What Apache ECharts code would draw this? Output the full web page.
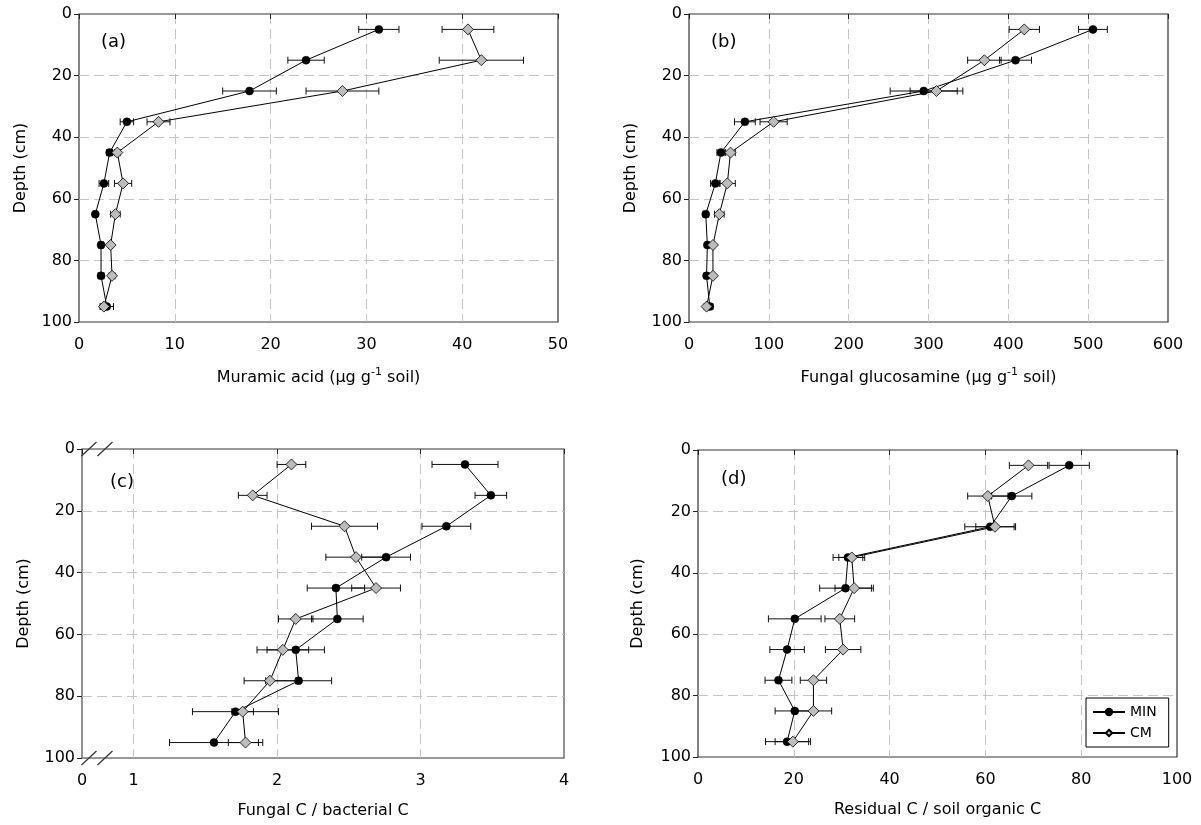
<!DOCTYPE html>
<html>
<head>
<meta charset="utf-8">
<script src="https://cdn.jsdelivr.net/npm/echarts@6/dist/echarts.min.js"></script>
<style>
html, body { margin: 0; padding: 0; background: #fff; }
#chart { width: 1201px; height: 825px; }
</style>
</head>
<body>
<div id="chart"></div>
<script>
// depth of each sample layer (cm)
var depths = [5, 15, 25, 35, 45, 55, 65, 75, 85, 95];

// (a) muramic acid
var minA = [31.3, 23.7, 17.8, 5.0, 3.2, 2.6, 1.7, 2.3, 2.3, 2.9];
var minAErr = [2.1, 1.9, 2.8, 0.7, 0.3, 0.5, 0.2, 0.25, 0.3, 0.7];
var cmA = [40.6, 42.0, 27.5, 8.3, 4.0, 4.6, 3.8, 3.3, 3.45, 2.6];
var cmAErr = [2.7, 4.4, 3.8, 1.2, 0.3, 0.9, 0.5, 0.2, 0.3, 0.3];

// (b) fungal glucosamine
var minB = [506, 409, 294, 70, 40, 33, 21, 23, 22, 26];
var minBErr = [18, 20, 42, 13, 5, 6, 3, 2, 3, 4];
var cmB = [420, 370, 310, 106, 52, 48, 38, 30, 30, 22];
var cmBErr = [19, 21, 33, 17, 6, 10, 6, 2, 2, 3];

// (c) fungal C / bacterial C
var minC = [3.31, 3.49, 3.18, 2.76, 2.41, 2.42, 2.13, 2.15, 1.71, 1.56];
var minCErr = [0.23, 0.11, 0.17, 0.17, 0.20, 0.18, 0.20, 0.23, 0.30, 0.31];
var cmC = [2.10, 1.83, 2.47, 2.55, 2.69, 2.13, 2.04, 1.95, 1.76, 1.78];
var cmCErr = [0.10, 0.10, 0.23, 0.21, 0.17, 0.12, 0.18, 0.18, 0.075, 0.12];

// (d) residual C / SOC
var minD = [77.5, 65.5, 61, 31.3, 30.8, 20.2, 18.6, 16.8, 20.2, 18.6];
var minDErr = [4.2, 4.2, 5.3, 3.1, 5.4, 5.5, 3.6, 2.8, 4.1, 4.5];
var cmD = [69, 60.5, 62, 32.1, 32.6, 29.6, 30.3, 24.1, 24.1, 19.8];
var cmDErr = [4, 4.2, 4, 2.7, 4, 3.1, 3.7, 2.75, 3.8, 3.7];

var panelLabels = ['(a)', '(b)', '(c)', '(d)'];
var xNames = [
    'Muramic acid (\u00b5g g{sup|-1} soil)',
    'Fungal glucosamine (\u00b5g g{sup|-1} soil)',
    'Fungal C / bacterial C',
    'Residual C / soil organic C'
];
var depthName = 'Depth (cm)';

var FONT = 'DejaVu Sans';
var grids = [
    { left: 79, top: 14, width: 479, height: 308 },
    { left: 689, top: 14, width: 479, height: 308 },
    { left: 82, top: 449, width: 482, height: 309 },
    { left: 698, top: 450, width: 479, height: 307 }
];

var myChart = echarts.init(document.getElementById('chart'));

function pts(vals) {
    return vals.map(function (v, i) { return [v, depths[i]]; });
}
function errs(vals, e) {
    return vals.map(function (v, i) { return [v, depths[i], e[i]]; });
}

function renderErr(params, api) {
    var x = api.value(0), y = api.value(1), e = api.value(2);
    var lo = api.coord([x - e, y]);
    var hi = api.coord([x + e, y]);
    var h = 3.5;
    var st = { stroke: '#111', lineWidth: 1 };
    return {
        type: 'group',
        children: [
            { type: 'line', shape: { x1: lo[0], y1: lo[1], x2: hi[0], y2: hi[1] }, style: st },
            { type: 'line', shape: { x1: lo[0], y1: lo[1] - h, x2: lo[0], y2: lo[1] + h }, style: st },
            { type: 'line', shape: { x1: hi[0], y1: hi[1] - h, x2: hi[0], y2: hi[1] + h }, style: st }
        ]
    };
}

var gridLine = { show: true, showMinLine: false, showMaxLine: false, lineStyle: { type: [10, 5], color: '#c4c4c4', width: 1 } };

var xAxes = [
    { min: 0, max: 50, interval: 10 },
    { min: 0, max: 600, interval: 100 },
    { min: 0.64, max: 4, splitNumber: 3 },
    { min: 0, max: 100, interval: 20 }
].map(function (ax, i) {
    return Object.assign({
        type: 'value',
        gridIndex: i,
        name: xNames[i],
        nameLocation: 'middle',
        nameGap: i < 2 ? 45 : 42,
        nameTextStyle: {
            fontFamily: FONT, fontSize: 16, color: '#000', lineHeight: 22,
            rich: { sup: { fontFamily: FONT, fontSize: 11, lineHeight: 11, verticalAlign: 'top', color: '#000' } }
        },
        axisLine: { show: false },
        axisTick: { show: true, inside: false, length: 5, lineStyle: { color: '#222' } },
        axisLabel: {
            margin: 15, fontFamily: FONT, fontSize: 16, color: '#000',
            formatter: i === 2 ? function (v) { return v < 1 ? '0' : String(v); } : null
        },
        splitLine: gridLine
    }, ax);
});

var yAxes = grids.map(function (g, i) {
    return {
        type: 'value',
        gridIndex: i,
        inverse: true,
        min: 0, max: 100, interval: 20,
        name: depthName,
        nameLocation: 'middle',
        nameGap: i === 3 ? 52 : 50,
        nameRotate: 90,
        nameTextStyle: { fontFamily: FONT, fontSize: 16, color: '#000' },
        axisLine: { show: false },
        axisTick: { show: true, inside: false, length: 5, lineStyle: { color: '#222' } },
        axisLabel: { margin: 7, fontFamily: FONT, fontSize: 16, color: '#000' },
        splitLine: gridLine
    };
});

var panelData = [
    [minA, minAErr, cmA, cmAErr],
    [minB, minBErr, cmB, cmBErr],
    [minC, minCErr, cmC, cmCErr],
    [minD, minDErr, cmD, cmDErr]
];

var series = [];
panelData.forEach(function (p, i) {
    series.push({
        name: 'errMIN' + i, type: 'custom', xAxisIndex: i, yAxisIndex: i,
        data: errs(p[0], p[1]), encode: { x: 0, y: 1 }, renderItem: renderErr, z: 1, silent: true
    });
    series.push({
        name: 'errCM' + i, type: 'custom', xAxisIndex: i, yAxisIndex: i,
        data: errs(p[2], p[3]), encode: { x: 0, y: 1 }, renderItem: renderErr, z: 1, silent: true
    });
    series.push({
        name: 'MIN', type: 'line', xAxisIndex: i, yAxisIndex: i, data: pts(p[0]),
        symbol: 'circle', symbolSize: 8, z: 3,
        lineStyle: { color: '#000', width: 1 },
        itemStyle: { color: '#000', borderColor: '#000', borderWidth: 0.5 }
    });
    series.push({
        name: 'CM', type: 'line', xAxisIndex: i, yAxisIndex: i, data: pts(p[2]),
        symbol: 'diamond', symbolSize: [11, 11], z: 4,
        lineStyle: { color: '#000', width: 1 },
        itemStyle: { color: '#bcbcbc', borderColor: '#000', borderWidth: 0.8 }
    });
});

var titles = [
    { left: 101, top: 33 }, { left: 711, top: 33 }, { left: 110, top: 473 }, { left: 721, top: 470 }
].map(function (t, i) {
    return { text: panelLabels[i], left: t.left, top: t.top, padding: 0,
        textStyle: { fontFamily: FONT, fontSize: 18, fontWeight: 'normal', color: '#000' } };
});

// axis-break marks on panel (c)
var gc = grids[2];
var breaks = [];
[gc.top, gc.top + gc.height].forEach(function (yy) {
    [gc.left + 7, gc.left + 23].forEach(function (xx) {
        breaks.push({
            type: 'line', z: 100,
            shape: { x1: xx - 7.5, y1: yy + 7, x2: xx + 7.5, y2: yy - 7 },
            style: { stroke: '#333', lineWidth: 1.2 }
        });
    });
});

var option = {
    animation: false,
    backgroundColor: '#fff',
    title: titles,
    grid: grids.map(function (g, i) {
        return Object.assign({ show: true, borderColor: i === 2 ? '#777' : '#333', borderWidth: i === 2 ? 1.6 : 1.2, backgroundColor: 'transparent' }, g);
    }),
    xAxis: xAxes,
    yAxis: yAxes,
    legend: {
        data: ['MIN', 'CM'],
        orient: 'vertical',
        left: 1086, top: 698,
        backgroundColor: '#fff',
        borderColor: '#000', borderWidth: 1, borderRadius: 0,
        padding: [7, 12, 7, 6],
        itemWidth: 32, itemHeight: 8, itemGap: 7,
        textStyle: { fontFamily: FONT, fontSize: 14, color: '#000' }
    },
    graphic: breaks,
    series: series
};
myChart.setOption(option);
</script>
</body>
</html>
